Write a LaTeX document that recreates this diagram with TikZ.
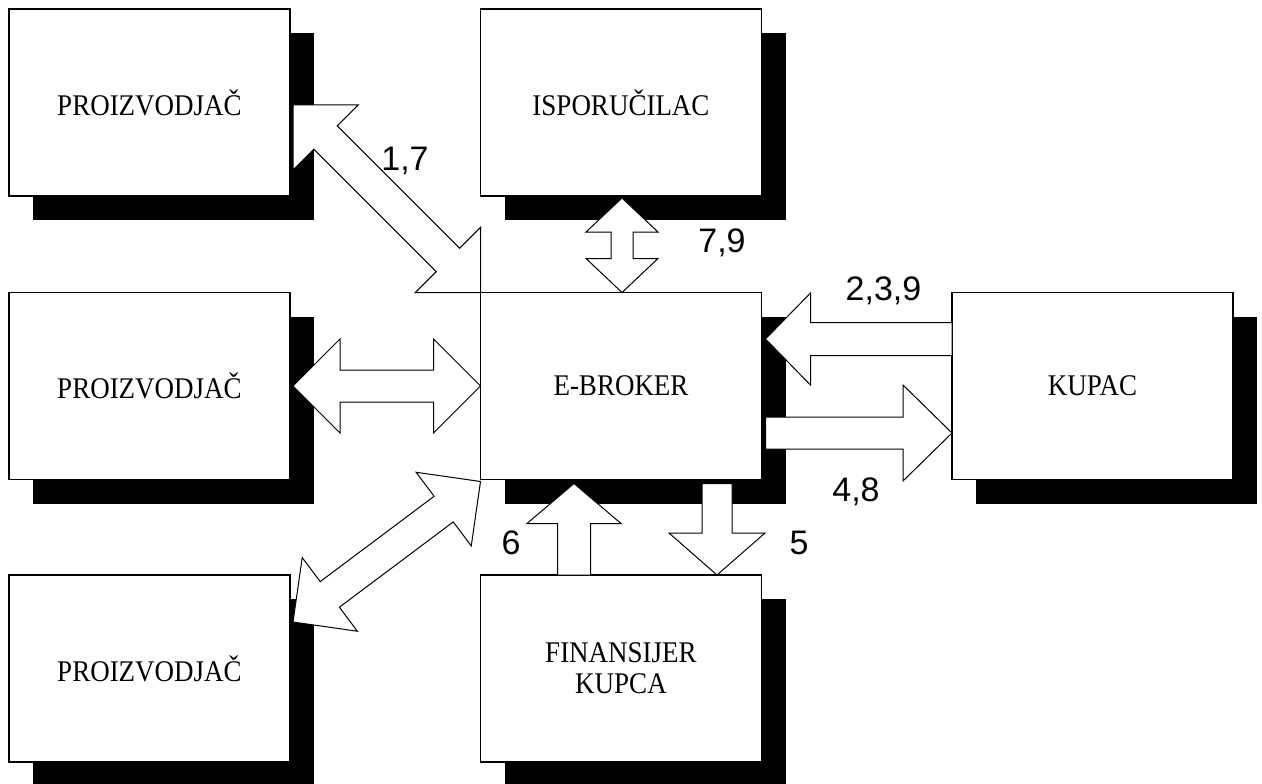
\documentclass[tikz,border=0pt]{standalone}
\usepackage{fontspec}
\usetikzlibrary{calc,shadows}
\newfontfamily\boxfont[FakeStretch=0.9]{Liberation Serif}
\newfontfamily\lblfont{Liberation Sans}
\newcommand\dblarrow[5]{%
 \coordinate (ha) at ($(#1)!#5!(#2)$);
 \coordinate (hb) at ($(#2)!#5!(#1)$);
 \draw[arrowshape] (#1) -- ($(ha)!#4!90:(#2)$) -- ($(ha)!#3!90:(#2)$) -- ($(hb)!#3!-90:(#1)$) -- ($(hb)!#4!-90:(#1)$) -- (#2) -- ($(hb)!#4!90:(#1)$) -- ($(hb)!#3!90:(#1)$) -- ($(ha)!#3!-90:(#2)$) -- ($(ha)!#4!-90:(#2)$) -- cycle;}
\newcommand\sglarrow[5]{%
 \coordinate (hb) at ($(#2)!#5!(#1)$);
 \draw[arrowshape] ($(#1)!#3!90:(#2)$) -- ($(hb)!#3!-90:(#1)$) -- ($(hb)!#4!-90:(#1)$) -- (#2) -- ($(hb)!#4!90:(#1)$) -- ($(hb)!#3!90:(#1)$) -- ($(#1)!#3!-90:(#2)$) -- cycle;}
\begin{document}
\begin{tikzpicture}[x=1pt,y=-1pt,
  boxnode/.style={draw=black,line width=1.2pt,fill=white,minimum width=281pt,minimum height=187pt,
    inner sep=0pt,outer sep=0pt,align=center,
    font=\boxfont\fontsize{30}{31}\selectfont,
    drop shadow={shadow xshift=24pt,shadow yshift=-24pt,fill=black,opacity=1}},
  arrowshape/.style={draw=black,line width=1pt,fill=white,line join=miter},
  lbl/.style={font=\lblfont\fontsize{34}{40}\selectfont,anchor=base,inner sep=0pt}]
\useasboundingbox (0,0) rectangle (1262,784);
\fill[white] (0,0) rectangle (1262,784);
\node[boxnode] (p1) at (149.5,102.5) {PROIZVODJAČ};
\node[boxnode] (isp) at (621,102.5) {ISPORUČILAC};
\node[boxnode] (p2) at (149.5,386) {PROIZVODJAČ};
\node[boxnode] (eb) at (621,386) {E-BROKER};
\node[boxnode] (kup) at (1092.5,386) {KUPAC};
\node[boxnode] (p3) at (149.5,668.5) {PROIZVODJAČ};
\node[boxnode] (fin) at (621,668.5) {FINANSIJER\\KUPCA};
% tips
\coordinate (a1) at ($(p1.east)+(3,2.5)$);
\coordinate (b1) at (eb.north west);
\coordinate (a2) at ($(p2.east)+(3,0)$);
\coordinate (b2) at (eb.west);
\coordinate (a3) at ($(p3.east)+(3,-46.5)$);
\coordinate (b3) at ($(eb.south west)+(0,2)$);
\coordinate (a4) at ($(isp.south)+(1,2)$);
\coordinate (b4) at ($(eb.north)+(1,0)$);
\coordinate (t5) at ($(kup.west)+(0,-47)$);
\coordinate (h5) at ($(eb.east)+(4,-47)$);
\coordinate (t6) at ($(eb.east)+(4,47)$);
\coordinate (h6) at ($(kup.west)+(0,47)$);
\coordinate (t7) at ($(fin.north)+(-47,0)$);
\coordinate (h7) at ($(eb.south)+(-47,4)$);
\coordinate (t8) at ($(eb.south)+(96,4)$);
\coordinate (h8) at ($(fin.north)+(96,0)$);
\dblarrow{a1}{b1}{16.5pt}{46pt}{46pt}
\dblarrow{a2}{b2}{16pt}{47pt}{47pt}
\dblarrow{a3}{b3}{16pt}{46pt}{46pt}
\dblarrow{a4}{b4}{11pt}{36pt}{34pt}
\sglarrow{t5}{h5}{16.5pt}{46pt}{45pt}
\sglarrow{t6}{h6}{16pt}{48pt}{49pt}
\sglarrow{t7}{h7}{16.5pt}{47pt}{40pt}
\sglarrow{t8}{h8}{15pt}{48pt}{42pt}
% labels
\node[lbl] (l17) at (405,170) {1,7};
\node[lbl] (l79) at (722,252) {7,9};
\node[lbl] (l239) at (883.5,300) {2,3,9};
\node[lbl] (l48) at (856,501) {4,8};
\node[lbl] (l6) at (511,554) {6};
\node[lbl] (l5) at (799,554) {5};
\end{tikzpicture}
\end{document}
